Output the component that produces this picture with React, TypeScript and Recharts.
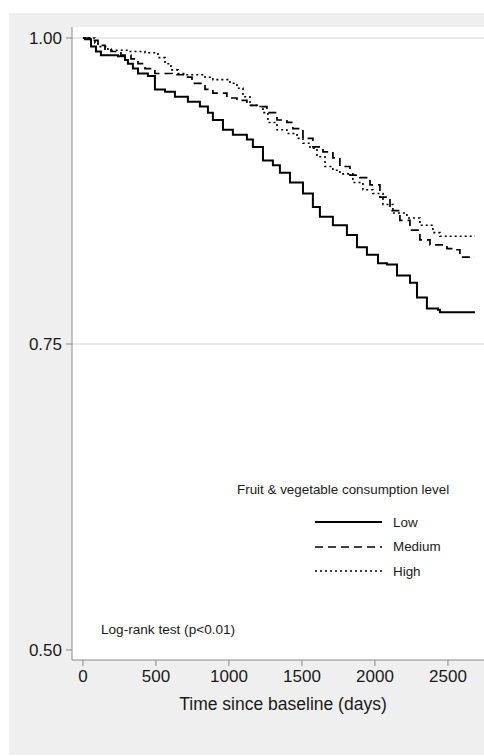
import { CartesianGrid, Line, LineChart, XAxis, YAxis } from "recharts";

const font = "Arial, 'Liberation Sans', sans-serif";

// Kaplan-Meier survival
const lowDays = [0, 14, 55, 89, 123, 240, 288, 308, 342, 377, 445, 493, 562, 630, 719, 801, 856, 890, 959, 1027, 1123, 1164, 1233, 1301, 1349, 1418, 1507, 1575, 1623, 1712, 1808, 1877, 1945, 2021, 2082, 2151, 2240, 2288, 2356, 2432, 2445, 2685];
const lowSurv = [1.0, 0.999, 0.993, 0.989, 0.986, 0.985, 0.982, 0.979, 0.975, 0.971, 0.969, 0.958, 0.956, 0.952, 0.948, 0.944, 0.939, 0.933, 0.925, 0.921, 0.917, 0.911, 0.9, 0.896, 0.89, 0.882, 0.873, 0.862, 0.854, 0.847, 0.839, 0.829, 0.823, 0.816, 0.815, 0.806, 0.8, 0.788, 0.779, 0.778, 0.776, 0.776];

const mediumDays = [0, 48, 103, 151, 192, 260, 329, 377, 425, 493, 610, 699, 747, 836, 890, 986, 1055, 1123, 1199, 1260, 1329, 1397, 1438, 1507, 1575, 1644, 1712, 1760, 1829, 1897, 1966, 2034, 2103, 2171, 2240, 2308, 2377, 2493, 2562, 2582, 2685];
const mediumSurv = [1.0, 0.998, 0.994, 0.991, 0.989, 0.986, 0.983, 0.979, 0.975, 0.971, 0.97, 0.968, 0.963, 0.958, 0.955, 0.951, 0.949, 0.945, 0.944, 0.939, 0.933, 0.931, 0.926, 0.918, 0.911, 0.907, 0.902, 0.895, 0.888, 0.886, 0.88, 0.87, 0.859, 0.851, 0.843, 0.835, 0.831, 0.828, 0.827, 0.821, 0.821];

const highDays = [0, 82, 103, 171, 308, 425, 514, 562, 603, 651, 699, 836, 890, 1007, 1055, 1096, 1144, 1192, 1233, 1267, 1329, 1397, 1466, 1507, 1555, 1603, 1658, 1712, 1760, 1849, 1918, 1986, 2055, 2123, 2219, 2308, 2397, 2445, 2685];
const highSurv = [1.0, 0.996, 0.993, 0.99, 0.989, 0.988, 0.984, 0.979, 0.974, 0.971, 0.97, 0.968, 0.966, 0.963, 0.959, 0.952, 0.945, 0.944, 0.939, 0.931, 0.925, 0.922, 0.918, 0.914, 0.91, 0.903, 0.895, 0.892, 0.889, 0.882, 0.876, 0.873, 0.864, 0.857, 0.853, 0.847, 0.841, 0.838, 0.838];

const xTicks = [0, 500, 1000, 1500, 2000, 2500];
const yTicks = [0.5, 0.75, 1];

const toRows = (days: number[], surv: number[]) =>
  days.map((d, i) => ({ t: d, s: surv[i] }));

const series = [
  { name: "Low", data: toRows(lowDays, lowSurv), dash: undefined, width: 2 },
  { name: "Medium", data: toRows(mediumDays, mediumSurv), dash: "8 5", width: 1.7 },
  { name: "High", data: toRows(highDays, highSurv), dash: "2 3", width: 1.6 },
];

const tickStyle = { fill: "#1a1a1a", fontSize: 17, fontFamily: font };

export default function App() {
  return (
    <div
      style={{
        position: "absolute",
        left: 9,
        top: 13,
        width: 475,
        height: 742,
        background: "#efefef",
        overflow: "hidden",
        fontFamily: font,
      }}
    >
      <LineChart
        width={475}
        height={742}
        margin={{ top: 14, right: 0, left: 0, bottom: 0 }}
      >
        <CartesianGrid
          fill="#ffffff"
          vertical={false}
          stroke="#e2e2e2"
          strokeWidth={1.5}
          horizontalValues={[0.75, 1]}
        />
        <XAxis
          type="number"
          dataKey="t"
          domain={[-75, 2747]}
          ticks={xTicks}
          allowDataOverflow
          height={95}
          stroke="#8a8a8a"
          tickSize={6}
          tickMargin={4}
          tick={tickStyle}
          label={{
            value: "Time since baseline (days)",
            position: "insideBottom",
            offset: 45,
            dx: 5,
            fill: "#1a1a1a",
            fontSize: 17.5,
            fontFamily: font,
          }}
        />
        <YAxis
          type="number"
          domain={[0.4918, 1.009]}
          ticks={yTicks}
          allowDataOverflow
          width={63}
          stroke="#8a8a8a"
          tickSize={6}
          tickMargin={4}
          tick={tickStyle}
          tickFormatter={(v: number) => v.toFixed(2)}
        />
        {series.map((s) => (
          <Line
            key={s.name}
            data={s.data}
            dataKey="s"
            name={s.name}
            type="stepAfter"
            stroke="#000"
            strokeWidth={s.width}
            strokeDasharray={s.dash}
            dot={false}
            isAnimationActive={false}
          />
        ))}
      </LineChart>

      <div
        style={{
          position: "absolute",
          left: 228,
          top: 469,
          fontSize: 13.4,
          lineHeight: "16px",
          color: "#1a1a1a",
          whiteSpace: "nowrap",
        }}
      >
        Fruit &amp; vegetable consumption level
      </div>
      {series.map((s, i) => (
        <div
          key={s.name}
          style={{
            position: "absolute",
            left: 306,
            top: 501 + i * 24.5,
            height: 16,
            display: "flex",
            alignItems: "center",
            fontSize: 13.4,
            color: "#1a1a1a",
          }}
        >
          <svg width={67} height={16} style={{ marginRight: 11 }}>
            <line
              x1={0}
              y1={8}
              x2={67}
              y2={8}
              stroke="#000"
              strokeWidth={s.width}
              strokeDasharray={s.dash}
            />
          </svg>
          {s.name}
        </div>
      ))}
      <div
        style={{
          position: "absolute",
          left: 92,
          top: 609,
          fontSize: 13.6,
          lineHeight: "16px",
          color: "#1a1a1a",
          whiteSpace: "nowrap",
        }}
      >
        Log-rank test (p&lt;0.01)
      </div>
    </div>
  );
}
